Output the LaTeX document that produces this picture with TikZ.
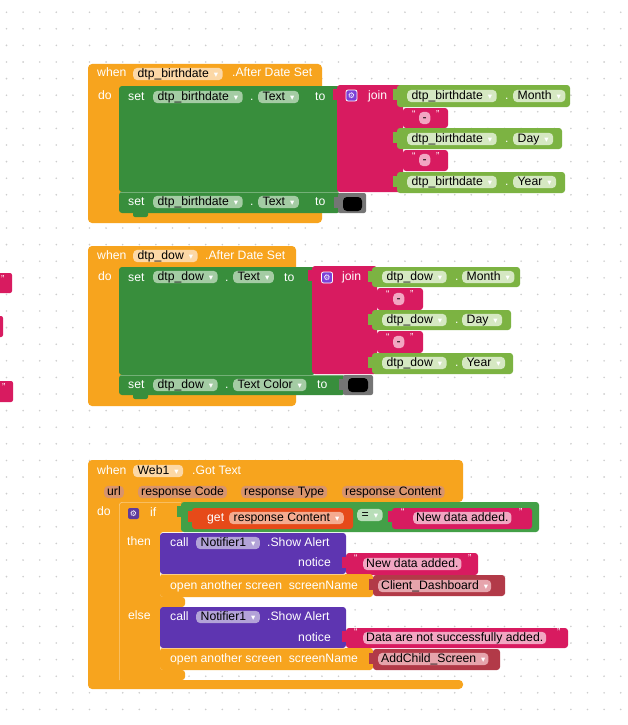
\documentclass[tikz,border=0pt]{standalone}
\usepackage{fontspec}
\setmainfont{Liberation Sans}
\newfontfamily\dejavu{DejaVu Sans}
\definecolor{evt}{HTML}{F7A41E}
\definecolor{evtf}{HTML}{FCD8A6}
\definecolor{param}{HTML}{D8946C}
\definecolor{setg}{HTML}{388E3C}
\definecolor{setf}{HTML}{A4CCA4}
\definecolor{txt}{HTML}{D81B60}
\definecolor{txtf}{HTML}{F2A6C2}
\definecolor{getg}{HTML}{7CB342}
\definecolor{getf}{HTML}{D5E8C2}
\definecolor{gearc}{HTML}{7B3FD8}
\definecolor{gearif}{HTML}{5E3B9E}
\definecolor{ntf}{HTML}{5E35B1}
\definecolor{ntff}{HTML}{B3A3D8}
\definecolor{varo}{HTML}{E64A19}
\definecolor{varf}{HTML}{F5AB90}
\definecolor{logic}{HTML}{43A047}
\definecolor{logicf}{HTML}{B8DEB8}
\definecolor{scr}{HTML}{B23A48}
\definecolor{scrf}{HTML}{E6A4AC}
\definecolor{colgray}{HTML}{757575}
\definecolor{dotc}{HTML}{CDCDCD}
\newcommand\fs{\fontsize{12.2}{14}\selectfont}
\newcommand\dd{\hspace{5pt}{\dejavu\fontsize{8.5}{8.5}\selectfont\color{white}▾}\hspace{2pt}}
\tikzset{
  lbl/.style={font=\fs, text=white, inner sep=0pt, anchor=west, text height=8.8pt, text depth=2.6pt},
  fld/.style={font=\fs, text=black, rounded corners=4pt, inner xsep=4.5pt, inner ysep=0pt, anchor=west, text height=9.2pt, text depth=3pt},
  qt/.style={font=\fontsize{10}{10}\selectfont, text=white, inner sep=0pt, anchor=west},
  blk/.style={rounded corners=3pt},
  gearbox/.style={rectangle, fill=gearc, draw=white, line width=0.8pt, rounded corners=2pt, minimum size=11pt, inner sep=0pt},
  gearglyph/.style={font=\dejavu\fontsize{8}{8}\selectfont, text=white, inner sep=0pt}
}
\begin{document}
\begin{tikzpicture}[x=1pt,y=-1pt]
\useasboundingbox (0,0) rectangle (628,725);
\fill[white] (0,0) rectangle (628,725);
\foreach \i in {0,...,37} {\foreach \j in {0,...,43} {\fill[dotc] (6.5+16.6*\i,12.2+16.6*\j) circle (0.9);}}

% left stubs
\fill[txt,rounded corners=2pt] (-5,273) rectangle (12,293);
\node[qt] (s1) at (1,279) {”};
\fill[txt,rounded corners=2pt] (-5,316) rectangle (3,337);
\fill[txt,rounded corners=2pt] (-5,381) rectangle (13,402);
\node[qt] (s3) at (2,387) {”};

%% ===== Block 1 =====
\fill[evt,rounded corners=4pt] (88,64) rectangle (322,223);
\node[lbl] (w1) at (97,73) {when};
\node[fld,fill=evtf] (w1f) at (133,74) {dtp\_birthdate\dd};
\node[lbl] (w1e) at (232,73) {.After Date Set};
\node[lbl] (do1) at (98,96) {do};
\fill[setg,blk] (119,86) rectangle (340,192);
\fill[setg,blk] (119,192) rectangle (340,213);
\draw[setg!70!white,line width=0.6pt] (120,192.5) -- (338,192.5);
\fill[setg,rounded corners=2pt] (133,210) rectangle (148,217);
\node[lbl] (s1a) at (128,97) {set};
\node[fld,fill=setf] (s1b) at (153,97) {dtp\_birthdate\dd};
\node[lbl] (s1c) at (250,97) {.};
\node[fld,fill=setf] (s1d) at (258,97) {Text\dd};
\node[lbl] (s1e) at (315,97) {to};
\node[lbl] (s2a) at (128,202) {set};
\node[fld,fill=setf] (s2b) at (153,202) {dtp\_birthdate\dd};
\node[lbl] (s2c) at (250,202) {.};
\node[fld,fill=setf] (s2d) at (258,202) {Text\dd};
\node[lbl] (s2e) at (315,202) {to};
\fill[colgray,rounded corners=2pt] (338,193) rectangle (366,213);
\fill[colgray] (334,197) rectangle (339,208);
\fill[black,rounded corners=4pt] (343,197) rectangle (362,211);
% join 1
\fill[txt,blk] (337,85) rectangle (403,192);
\fill[txt] (333,89) rectangle (338,100);
\node[gearbox] (g1) at (351.5,95.5) {};
\node[gearglyph] (g1t) at (g1) {⚙};
\node[lbl] (j1) at (368,96) {join};
\fill[getg,blk] (397,85) rectangle (570,107);
\fill[getg] (393,89) rectangle (398,100);
\node[fld,fill=getf] (r1a) at (407,96) {dtp\_birthdate\dd};
\node[lbl] (r1b) at (505,96) {.};
\node[fld,fill=getf] (r1c) at (513,96) {Month\dd};
\fill[txt,blk] (403,108) rectangle (448,128);
\node[qt] (r2a) at (412,114) {“};
\node[fld,fill=txtf,inner xsep=3.5pt] (r2b) at (419,118) {-};
\node[qt] (r2c) at (436,114) {”};
\fill[getg,blk] (397,128) rectangle (562,149);
\fill[getg] (393,132) rectangle (398,143);
\node[fld,fill=getf] (r3a) at (407,139) {dtp\_birthdate\dd};
\node[lbl] (r3b) at (505,139) {.};
\node[fld,fill=getf] (r3c) at (513,139) {Day\dd};
\fill[txt,blk] (403,150) rectangle (448,171);
\node[qt] (r4a) at (412,156) {“};
\node[fld,fill=txtf,inner xsep=3.5pt] (r4b) at (419,160) {-};
\node[qt] (r4c) at (436,156) {”};
\fill[getg,blk] (397,172) rectangle (565,193);
\fill[getg] (393,176) rectangle (398,187);
\node[fld,fill=getf] (r5a) at (407,182) {dtp\_birthdate\dd};
\node[lbl] (r5b) at (505,182) {.};
\node[fld,fill=getf] (r5c) at (513,182) {Year\dd};

%% ===== Block 2 =====
\fill[evt,rounded corners=4pt] (88,246) rectangle (296,406);
\node[lbl] (w2) at (97,256) {when};
\node[fld,fill=evtf] (w2f) at (133,256) {dtp\_dow\dd};
\node[lbl] (w2e) at (205,256) {.After Date Set};
\node[lbl] (do2) at (98,277) {do};
\fill[setg,blk] (119,267) rectangle (315,375);
\fill[setg,blk] (119,375) rectangle (345,395);
\draw[setg!70!white,line width=0.6pt] (120,375.5) -- (343,375.5);
\fill[setg,rounded corners=2pt] (133,392) rectangle (148,399);
\node[lbl] (t1a) at (128,278) {set};
\node[fld,fill=setf] (t1b) at (153,277) {dtp\_dow\dd};
\node[lbl] (t1c) at (225,278) {.};
\node[fld,fill=setf] (t1d) at (233,277) {Text\dd};
\node[lbl] (t1e) at (284,278) {to};
\node[lbl] (t2a) at (128,385) {set};
\node[fld,fill=setf] (t2b) at (153,385) {dtp\_dow\dd};
\node[lbl] (t2c) at (225,385) {.};
\node[fld,fill=setf] (t2d) at (233,385) {Text Color\dd};
\node[lbl] (t2e) at (317,385) {to};
\fill[colgray,rounded corners=2pt] (343,375) rectangle (373,395);
\fill[colgray] (339,379) rectangle (344,390);
\fill[black,rounded corners=4pt] (348,378) rectangle (368,392);
% join 2
\fill[txt,blk] (312,266) rectangle (377,374);
\fill[txt] (308,270) rectangle (313,281);
\node[gearbox] (g2) at (327,277.5) {};
\node[gearglyph] (g2t) at (g2) {⚙};
\node[lbl] (j2) at (342,277) {join};
\fill[getg,blk] (372,267) rectangle (520,287);
\fill[getg] (368,271) rectangle (373,282);
\node[fld,fill=getf] (u1a) at (382,277) {dtp\_dow\dd};
\node[lbl] (u1b) at (455,277) {.};
\node[fld,fill=getf] (u1c) at (462,277) {Month\dd};
\fill[txt,blk] (377,288) rectangle (423,310);
\node[qt] (u2a) at (386,294) {“};
\node[fld,fill=txtf,inner xsep=3.5pt] (u2b) at (393,299) {-};
\node[qt] (u2c) at (410,294) {”};
\fill[getg,blk] (372,310) rectangle (511,330);
\fill[getg] (368,314) rectangle (373,325);
\node[fld,fill=getf] (u3a) at (382,320) {dtp\_dow\dd};
\node[lbl] (u3b) at (455,320) {.};
\node[fld,fill=getf] (u3c) at (462,320) {Day\dd};
\fill[txt,blk] (377,331) rectangle (423,353);
\node[qt] (u4a) at (386,337) {“};
\node[fld,fill=txtf,inner xsep=3.5pt] (u4b) at (393,342) {-};
\node[qt] (u4c) at (410,337) {”};
\fill[getg,blk] (372,353) rectangle (513,374);
\fill[getg] (368,357) rectangle (373,368);
\node[fld,fill=getf] (u5a) at (382,363) {dtp\_dow\dd};
\node[lbl] (u5b) at (455,363) {.};
\node[fld,fill=getf] (u5c) at (462,363) {Year\dd};

%% ===== Block 3 =====
\fill[evt,rounded corners=4pt] (88,460) -- (463,460) -- (463,502) -- (119,502) -- (119,680) -- (463,680) -- (463,689) -- (88,689) -- cycle;
\node[lbl] (w3) at (97,471) {when};
\node[fld,fill=evtf] (w3f) at (133,471) {Web1\dd};
\node[lbl] (w3e) at (192,471) {.Got Text};
\node[fld,fill=param,inner xsep=3pt] (p1) at (104,492) {url};
\node[fld,fill=param,inner xsep=3pt] (p2) at (138,492) {response Code};
\node[fld,fill=param,inner xsep=3pt] (p3) at (241,492) {response Type};
\node[fld,fill=param,inner xsep=3pt] (p4) at (342,492) {response Content};
\node[lbl] (do3) at (97,512) {do};
% if block
\fill[evt,rounded corners=3pt] (119,502) -- (185,502) -- (185,532) -- (160,532) -- (160,597) -- (185,597) -- (185,607) -- (160,607) -- (160,670) -- (185,670) -- (185,680) -- (119,680) -- cycle;
\draw[evt!55!white,line width=0.6pt,rounded corners=3pt] (119.3,680) -- (119.3,502.3) -- (181,502.3);
\node[rectangle,fill=gearif,rounded corners=2pt,minimum size=11pt,inner sep=0pt] (g3) at (133.5,513.5) {};
\node[gearglyph] (g3t) at (g3) {⚙};
\node[lbl] (if3) at (150,513) {if};
\node[lbl] (then3) at (127,542) {then};
\node[lbl] (else3) at (128,616) {else};
% condition
\fill[logic,blk] (181,502) rectangle (539,532);
\fill[logic] (177,506) rectangle (182,517);
\fill[varo,blk] (192,508) rectangle (353,529);
\fill[varo] (188,511) rectangle (193,522);
\node[lbl] (get3) at (207,518) {get};
\node[fld,fill=varf] (get3f) at (229,518) {response Content\dd};
\node[fld,fill=logicf] (eq3) at (357,515) {=\dd};
\fill[txt,blk] (392,508) rectangle (532,529);
\fill[txt] (388,511) rectangle (393,522);
\node[qt] (c1a) at (401,512) {“};
\node[fld,fill=txtf,inner xsep=3pt] (c1b) at (413,518) {New data added.};
\node[qt] (c1c) at (519,512) {”};
% then branch
\fill[ntf,blk] (160,533) rectangle (346,574);
\fill[ntf,rounded corners=2pt] (175,570) rectangle (187,578);
\node[lbl] (call1) at (170,543) {call};
\node[fld,fill=ntff] (nt1) at (196,543) {Notifier1\dd};
\node[lbl] (sa1) at (267,543) {.Show Alert};
\node[lbl,anchor=east] (no1) at (331,563) {notice};
\fill[txt,blk] (346,553) rectangle (478,575);
\fill[txt] (342,557) rectangle (347,568);
\node[qt] (d1a) at (354,558) {“};
\node[fld,fill=txtf,inner xsep=3pt] (d1b) at (363,564) {New data added.};
\node[qt] (d1c) at (468,558) {”};
\fill[evt,blk] (160,574) rectangle (373,597);
\draw[evt!55!white,line width=0.6pt] (161,574.3) -- (345,574.3);
\node[lbl] (op1) at (170,586) {open another screen\ \ screenName};
\fill[scr,blk] (373,575) rectangle (505,596);
\fill[scr] (369,579) rectangle (374,590);
\node[fld,fill=scrf,inner xsep=3pt] (sc1) at (378,586) {Client\_Dashboard\dd};
% else branch
\fill[ntf,blk] (160,607) rectangle (346,648);
\fill[ntf,rounded corners=2pt] (175,644) rectangle (187,652);
\node[lbl] (call2) at (170,617) {call};
\node[fld,fill=ntff] (nt2) at (196,617) {Notifier1\dd};
\node[lbl] (sa2) at (267,617) {.Show Alert};
\node[lbl,anchor=east] (no2) at (331,638) {notice};
\fill[txt,blk] (346,628) rectangle (568,648);
\fill[txt] (342,631) rectangle (347,642);
\node[qt] (d2a) at (354,632) {“};
\node[fld,fill=txtf,inner xsep=3pt] (d2b) at (363,638) {Data are not successfully added.};
\node[qt] (d2c) at (557,632) {”};
\fill[evt,blk] (160,648) rectangle (373,670);
\draw[evt!55!white,line width=0.6pt] (161,648.3) -- (345,648.3);
\node[lbl] (op2) at (170,659) {open another screen\ \ screenName};
\fill[scr,blk] (373,649) rectangle (500,670);
\fill[scr] (369,653) rectangle (374,664);
\node[fld,fill=scrf,inner xsep=3pt] (sc2) at (378,659) {AddChild\_Screen\dd};
\end{tikzpicture}
\end{document}
